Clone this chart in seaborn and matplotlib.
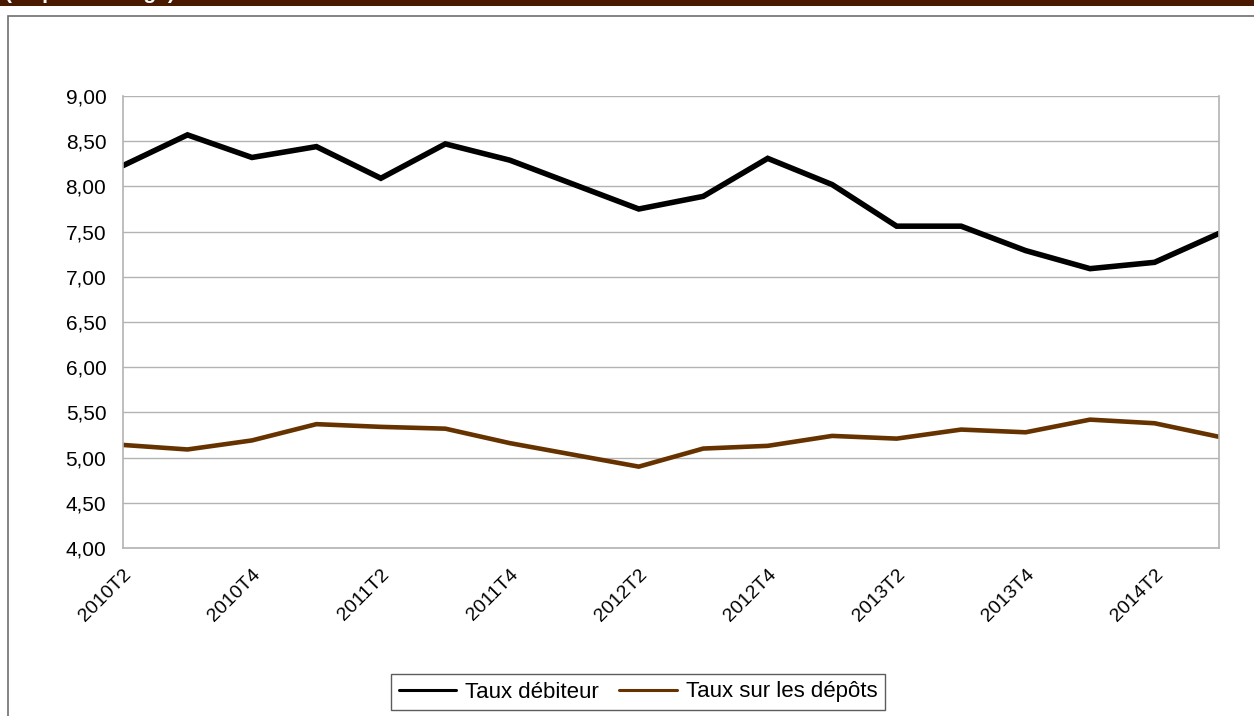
import pandas as pd
import matplotlib.pyplot as plt
import matplotlib.patches as patches
import seaborn as sns

quarters = ['2010T2', '2010T3', '2010T4', '2011T1', '2011T2', '2011T3', '2011T4',
            '2012T1', '2012T2', '2012T3', '2012T4', '2013T1', '2013T2', '2013T3',
            '2013T4', '2014T1', '2014T2', '2014T3']
taux_debiteur = [8.23, 8.57, 8.32, 8.44, 8.09, 8.47, 8.29, 8.02, 7.75, 7.89,
                 8.31, 8.02, 7.56, 7.56, 7.29, 7.09, 7.16, 7.48]
taux_depots = [5.14, 5.09, 5.19, 5.37, 5.34, 5.32, 5.16, 5.03, 4.90, 5.10,
               5.13, 5.24, 5.21, 5.31, 5.28, 5.42, 5.38, 5.23]
y_ticks = [4.0, 4.5, 5.0, 5.5, 6.0, 6.5, 7.0, 7.5, 8.0, 8.5, 9.0]

names = ['Taux débiteur', 'Taux sur les dépôts']
colors = ['#000000', '#663300']

df = pd.DataFrame({
    'quarter': quarters * 2,
    'idx': list(range(len(quarters))) * 2,
    'value': taux_debiteur + taux_depots,
    'serie': [names[0]] * len(quarters) + [names[1]] * len(quarters),
})

sns.set_style('white')
plt.rcParams['font.family'] = ['Liberation Sans', 'DejaVu Sans']

fig = plt.figure(figsize=(12.54, 7.16), dpi=100)
ax = fig.add_axes([123 / 1254, 1 - 548 / 716, (1219 - 123) / 1254, (548 - 96) / 716])

# top banner (title text is cut by the top edge, as in the source) and outer frame
fig.patches.append(patches.Rectangle((0, 1 - 6 / 716), 1, 6 / 716, transform=fig.transFigure,
                                     facecolor='#4a1a00', edgecolor='none', zorder=0))
fig.text(0.004, 1 + 1 / 716, '(en pourcentage)', color='white', fontsize=15,
         fontweight='bold', va='baseline', ha='left')
fig.patches.append(patches.Rectangle((8 / 1254, -0.05), 1.2, 1 - 16 / 716 + 0.05,
                                     transform=fig.transFigure, facecolor='none',
                                     edgecolor='#6e6e6e', linewidth=1.2, zorder=0))

sns.lineplot(data=df, x='idx', y='value', hue='serie', palette=colors, ax=ax,
             legend=False, sort=False)
for line, lw in zip(ax.get_lines(), [4.0, 3.3]):
    line.set_linewidth(lw)
    line.set_solid_joinstyle('miter')

ax.set_xlim(0, len(quarters) - 1)
ax.set_ylim(4, 9)
ax.set_yticks(y_ticks)
ax.set_yticklabels([f'{v:.2f}'.replace('.', ',') for v in y_ticks], fontsize=15, color='black')
ax.set_xticks(range(len(quarters)))
ax.set_xticklabels([q if i % 2 == 0 else '' for i, q in enumerate(quarters)],
                   rotation=45, ha='right', rotation_mode='anchor', fontsize=14,
                   color='black')
ax.tick_params(axis='both', length=7, color='#b3b3b3', width=1)
ax.tick_params(axis='y', pad=5)
ax.tick_params(axis='x', pad=6)
ax.yaxis.grid(True, color='#b3b3b3', linewidth=1)
ax.set_axisbelow(True)
for side in ['left', 'right', 'bottom']:
    ax.spines[side].set_color('#b3b3b3')
    ax.spines[side].set_linewidth(1.2)
ax.spines['top'].set_visible(False)
ax.set_xlabel('')
ax.set_ylabel('')

handles = [plt.Line2D([], [], color=c, linewidth=2.2) for c in colors]
leg = fig.legend(handles, names, loc='center', bbox_to_anchor=(638 / 1254, 1 - 692 / 716),
                 ncol=2, fontsize=16, frameon=True, fancybox=False, edgecolor='#333333',
                 handlelength=2.6, handletextpad=0.4, columnspacing=0.9, borderpad=0.35)
for t in leg.get_texts():
    t.set_color('black')

plt.savefig('out.png', dpi=100)
